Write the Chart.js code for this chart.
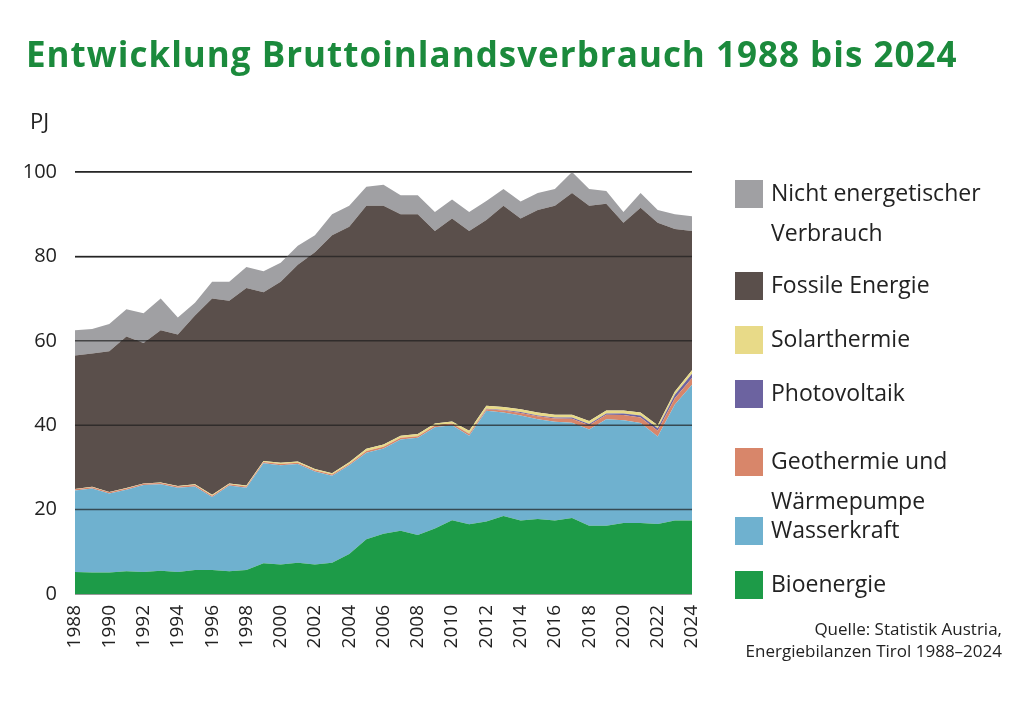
<!DOCTYPE html>
<html><head><meta charset="utf-8">
<script src="https://cdn.jsdelivr.net/npm/chart.js@4"></script>
<style>
body{margin:0;background:#fff;font-family:"Open Sans",sans-serif;}
#wrap{position:relative;width:1024px;height:703px;}
canvas{position:absolute;left:0;top:0;}
h1{position:absolute;left:26px;top:30px;margin:0;font-size:35px;color:#1b8a3c;font-weight:bold;letter-spacing:1px;}
.pj{position:absolute;left:30px;top:105px;font-size:22px;color:#222;}
.leg{position:absolute;left:735px;font-size:23px;color:#222;line-height:40px;}
.leg i{position:absolute;left:0;top:8px;width:28px;height:28px;}
.leg span{position:absolute;left:36px;white-space:nowrap;}
.src{position:absolute;right:22px;top:618px;font-size:17px;color:#222;text-align:right;line-height:22px;}
</style></head><body>
<div id="wrap">
<canvas id="c" width="1024" height="703"></canvas>
<h1>Entwicklung Bruttoinlandsverbrauch 1988 bis 2024</h1>
<div class="pj">PJ</div>
<div id="legend"></div>
<div class="src">Quelle: Statistik Austria,<br>Energiebilanzen Tirol 1988–2024</div>
</div>
<script>
const years = [];
for (let y = 1988; y <= 2024; y++) years.push(String(y));
const bio = [5.2,5.1,5.1,5.4,5.2,5.5,5.2,5.7,5.7,5.4,5.7,7.3,7.0,7.4,7.0,7.4,9.5,13,14.3,15,14,15.5,17.5,16.5,17.2,18.5,17.4,17.8,17.4,18,16.2,16.2,16.8,16.8,16.6,17.4,17.4];
const wasser = [19.3,19.9,18.7,19.3,20.6,20.5,20.0,19.8,17.3,20.3,19.5,23.7,23.5,23.4,22,20.6,21,20.5,20.2,21.6,23,24,22.5,21,26.2,24.5,24.9,23.6,23.4,22.6,22.8,25.2,24.4,23.7,20.7,27.5,32.2];
const geo = [0.3,0.3,0.3,0.3,0.3,0.3,0.3,0.3,0.3,0.3,0.3,0.3,0.3,0.3,0.3,0.3,0.3,0.4,0.4,0.4,0.4,0.4,0.4,0.4,0.4,0.5,0.6,0.7,0.8,0.9,1.0,1.1,1.2,1.3,1.4,1.5,1.6];
const pv = [0,0,0,0,0,0,0,0,0,0,0,0,0,0,0,0,0,0,0,0,0,0,0,0.1,0.1,0.1,0.2,0.2,0.2,0.3,0.3,0.3,0.4,0.5,0.6,0.8,1.0];
const solar = [0.1,0.1,0.1,0.1,0.1,0.1,0.1,0.2,0.2,0.2,0.2,0.2,0.3,0.3,0.3,0.3,0.4,0.5,0.5,0.5,0.5,0.5,0.5,0.7,0.7,0.7,0.7,0.7,0.7,0.7,0.7,0.7,0.7,0.7,0.7,0.8,0.8];
const fossil = [31.6,31.6,33.3,35.9,33.3,36.1,35.9,40,46.5,43.3,46.8,40,42.9,46.6,51.4,56.4,55.8,57.6,56.6,52.5,52.1,45.6,48.1,47.3,44,47.7,45.2,48,49.5,52.5,51,49,44.5,48.5,48,38.5,33];
const nichtEnergetisch = [6,5.8,6.5,6.5,7,7.5,4,3,4,4.5,5,5,4.5,4.5,4,5,5,4.5,5,4.5,4.5,4.5,4.5,4.5,4.5,4,4,4,4,5,4,3,2.5,3.5,3,3.5,3.5];
const yTicks = [0,20,40,60,80,100];

const series = [
  {label:'Bioenergie', data:bio, color:'#1d9b48'},
  {label:'Wasserkraft', data:wasser, color:'#6fb1cf'},
  {label:'Geothermie und<br>Wärmepumpe', data:geo, color:'#d8866a'},
  {label:'Photovoltaik', data:pv, color:'#6c63a0'},
  {label:'Solarthermie', data:solar, color:'#e8da88'},
  {label:'Fossile Energie', data:fossil, color:'#5a4f4b'},
  {label:'Nicht energetischer<br>Verbrauch', data:nichtEnergetisch, color:'#a0a0a3'}
];

new Chart(document.getElementById('c'), {
  type: 'line',
  data: {
    labels: years,
    datasets: series.map((s, i) => ({
      label: s.label, data: s.data, backgroundColor: s.color, borderColor: s.color,
      borderWidth: 0, pointRadius: 0, fill: i === 0 ? 'origin' : '-1', tension: 0
    }))
  },
  options: {
    responsive: false, animation: false,
    layout: {padding: {left: 0, right: 332, top: 172, bottom: 29}},
    plugins: {legend: {display: false}, tooltip: {enabled: false}},
    scales: {
      x: {
        offset: false,
        grid: {display: false},
        border: {display: false},
        ticks: {maxRotation: 90, minRotation: 90, autoSkip: false, color: '#222', font: {size: 19, family: 'Open Sans'},
          callback: (v, i) => i % 2 === 0 ? years[i] : ''},
        afterFit: a => { a.height = 80; }
      },
      y: {
        stacked: true, min: 0, max: 100,
        afterBuildTicks: a => { a.ticks = yTicks.map(v => ({value: v})); },
        grid: {color: '#333', lineWidth: 1.5, drawTicks: false},
        border: {display: false},
        ticks: {color: '#222', padding: 18, font: {size: 20, family: 'Open Sans'}},
        afterFit: a => { a.width = 75; }
      }
    }
  },
  plugins: [{
    id: 'gridOnTop',
    afterDatasetsDraw(chart) {
      const {ctx, chartArea, scales} = chart;
      ctx.save();
      ctx.strokeStyle = 'rgba(30,30,30,0.7)'; ctx.lineWidth = 1.5;
      yTicks.slice(1).forEach(v => {
        const y = scales.y.getPixelForValue(v);
        ctx.beginPath(); ctx.moveTo(chartArea.left, y); ctx.lineTo(chartArea.right, y); ctx.stroke();
      });
      ctx.restore();
    }
  }]
});

const legendTops = [563, 509, 440, 372, 318, 264, 172];
const lg = document.getElementById('legend');
series.forEach((s, i) => {
  const d = document.createElement('div');
  d.className = 'leg'; d.style.top = legendTops[i] + 'px';
  d.innerHTML = '<i style="background:' + s.color + '"></i><span>' + s.label + '</span>';
  lg.appendChild(d);
});
</script>
</body></html>
